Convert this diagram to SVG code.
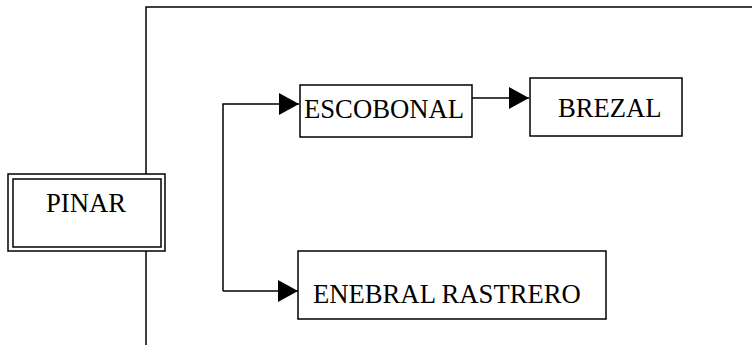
<svg xmlns="http://www.w3.org/2000/svg" width="752" height="345" viewBox="0 0 752 345">
<defs>
<style>
.box{fill:#fff;stroke:#000;stroke-width:1.5}
.ln{fill:none;stroke:#000;stroke-width:1.5}
.t{font-family:"Liberation Serif","Times New Roman",serif;font-size:26.67px;fill:#000}
</style>
<marker id="ah" markerUnits="userSpaceOnUse" markerWidth="21" markerHeight="22" viewBox="0 0 21 22" refX="20" refY="11" orient="auto">
<path d="M0,0 L20,11 L0,22 Z" fill="#000"/>
</marker>
</defs>
<rect width="752" height="345" fill="#fff"/>
<g id="connectors">
<path class="ln" d="M752,7 L146,7 L146,345"/>
<path class="ln" d="M223,291 L223,104 L299,104" marker-end="url(#ah)"/>
<path class="ln" d="M223,291 L298,291" marker-end="url(#ah)"/>
<path class="ln" d="M472,98 L529,98" marker-end="url(#ah)"/>
</g>
<g id="pinar">
<rect class="box" x="8" y="174" width="157" height="77"/>
<rect class="box" x="13" y="179" width="148" height="68"/>
<text class="t" x="46" y="212">PINAR</text>
</g>
<g id="escobonal">
<rect class="box" x="300" y="85" width="172" height="52"/>
<text class="t" x="304" y="118">ESCOBONAL</text>
</g>
<g id="brezal">
<rect class="box" x="530" y="78" width="152" height="58"/>
<text class="t" x="558" y="117">BREZAL</text>
</g>
<g id="enebral">
<rect class="box" x="298" y="251" width="308" height="68"/>
<text class="t" x="313" y="303">ENEBRAL RASTRERO</text>
</g>
</svg>
